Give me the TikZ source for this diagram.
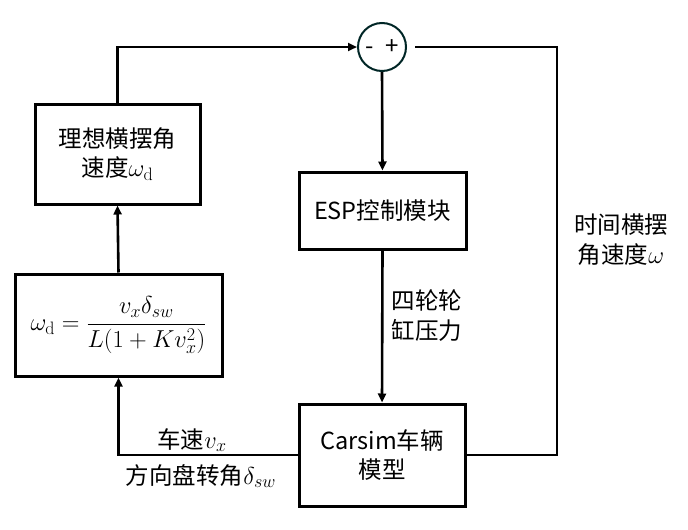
\RequirePackage{fix-cm}
\documentclass[tikz,border=0pt]{standalone}
\usepackage{amsmath}
\usepackage[no-math]{fontspec}
\setmainfont{Noto Sans CJK SC}
\DeclareMathSizes{23.5}{24.5}{18}{14}
\usetikzlibrary{arrows.meta}
\begin{document}
\begin{tikzpicture}[x=1pt,y=-1pt,
  box/.style={draw,line width=3pt,inner sep=0pt,align=center,font=\fontsize{23.5}{29}\selectfont},
  conn/.style={line width=2.6pt},
  arr/.style={conn,-{Triangle[length=9pt,width=8pt]}},
  txt/.style={font=\fontsize{23.5}{30}\selectfont,align=center,inner sep=0pt}]
\useasboundingbox (0,0) rectangle (688,530);
\fill[white] (0,0) rectangle (688,530);

\node[box,minimum width=165pt,minimum height=100pt] (ideal) at (117.5,154) {理想横摆角\\速度$\omega_{\mathrm{d}}$};
\node[box,minimum width=207pt,minimum height=102pt] (form) at (118.5,325) {$\omega_{\mathrm{d}}=\dfrac{v_x\delta_{sw}}{L(1+Kv_x^2)}$};
\node[box,minimum width=167pt,minimum height=77pt] (esp) at (382.5,210.5) {ESP控制模块};
\node[box,minimum width=166pt,minimum height=102pt] (car) at (382,455) {Carsim车辆\\模型};
\node[draw=black!70!teal,line width=2pt,circle,minimum size=48pt,inner sep=0pt,font=\fontsize{24}{26}\selectfont] (sum) at (382,47) {-\hspace{12pt}+};

\coordinate (fb) at ([xshift=8pt]sum.east);
\coordinate (rc) at (557,47);

\draw[arr] (ideal.north) |- (sum.west);
\draw[arr] (sum.south) -- (esp.north);
\draw[arr] (esp.south) -- (car.north);
\draw[arr] (car.west) -| (form.south);
\draw[arr] (form.north) -- (ideal.south);
\draw[conn] (car.east) -| (rc) -- (fb);

\node[txt] (lp) at (427,316) {四轮轮\\缸压力};
\node[txt] (lw) at (621,240) {时间横摆\\角速度$\omega$};
\node[txt] (lv) at (192,440) {车速$v_x$};
\node[txt] (ld) at (201,476) {方向盘转角$\delta_{sw}$};
\end{tikzpicture}
\end{document}
